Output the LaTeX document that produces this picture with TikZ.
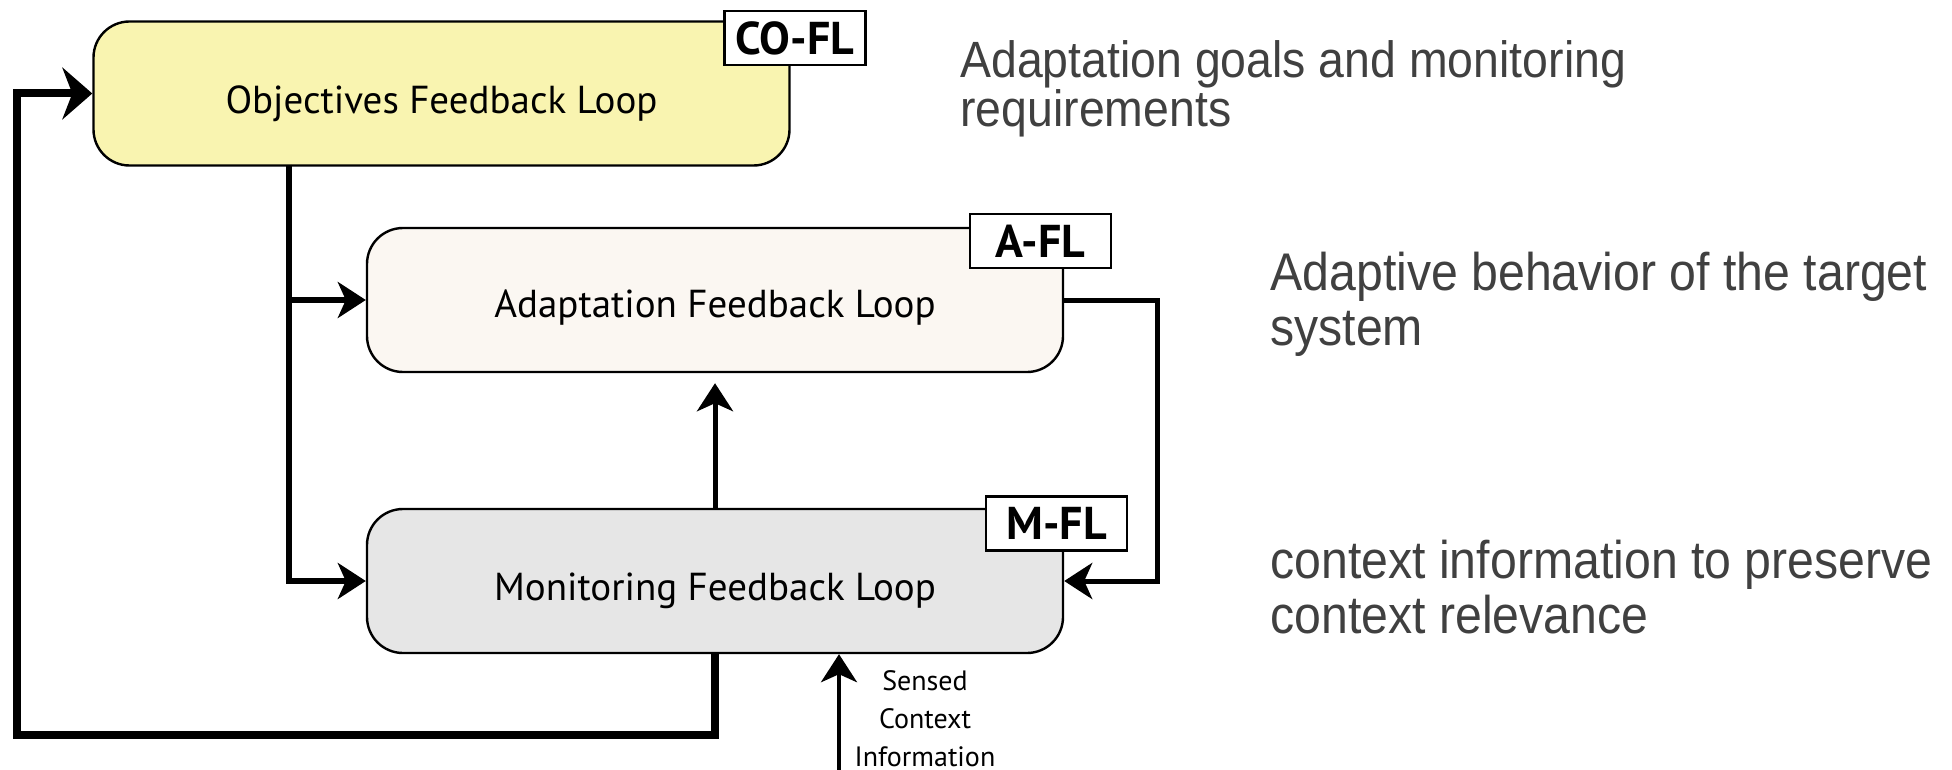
\documentclass[tikz,border=0pt]{standalone}
\usepackage{fontspec}
\setmainfont{PT Sans}
\newfontfamily\notefont[FakeStretch=0.91]{Liberation Sans}
\usetikzlibrary{arrows.meta}
\definecolor{coyellow}{HTML}{F9F4B0}
\definecolor{afill}{HTML}{FBF7F2}
\definecolor{mfill}{HTML}{E6E6E6}
\definecolor{notegray}{HTML}{404040}
\tikzset{
  loopbox/.style={draw=black, line width=1.2pt, rounded corners=18pt, minimum width=348pt, minimum height=72pt, inner sep=0pt},
  looptext/.style={font=\fontsize{19.5}{22}\selectfont, yshift=-5pt},
  tagbox/.style={draw=black, fill=white, line width=1.2pt, minimum width=70.5pt, minimum height=27pt, font=\bfseries\fontsize{23}{26}\selectfont, inner sep=0pt},
  note/.style={anchor=base west, align=left, text=notegray, font=\notefont\fontsize{26.5}{27.5}\selectfont, inner sep=0pt},
  arr/.style={line width=3pt, -{Stealth[length=14pt, width=18pt, inset=4pt]}},
  outer/.style={line width=4pt, -{Stealth[length=15pt, width=26pt, inset=5pt]}},
}
\begin{document}
\begin{tikzpicture}[x=0.5pt, y=-0.5pt]
\useasboundingbox (0,0) rectangle (1952,770);
% boxes
\node[loopbox, fill=coyellow, label={[looptext]center:Objectives Feedback Loop}] (CO) at (441.5,93.5) {};
\node[loopbox, fill=afill, label={[looptext, yshift=1pt]center:Adaptation Feedback Loop}] (A) at (715,300) {};
\node[loopbox, fill=mfill, label={[looptext]center:Monitoring Feedback Loop}] (M) at (715,581) {};
% tags
\node[tagbox] (cotag) at (795,38) {CO-FL};
\node[tagbox] (atag) at (1040.5,241) {A-FL};
\node[tagbox] (mtag) at (1056.5,523.5) {M-FL};
% coordinates
\coordinate (cofork) at (289,165);
\coordinate (bl) at (17,735);
\coordinate (rr) at (1157,300);
\coordinate (sin) at (839,770);
% connectors
\draw[outer] (M.south) |- (bl) |- (CO.west);
\draw[arr] (cofork) |- (A.west);
\draw[arr] (cofork) |- (M.west);
\draw[arr, line width=2.5pt, shorten >=5pt] (M.north) -- (A.south);
\draw[arr, line width=2.5pt] (A.east) -- (rr) |- (M.east);
\draw[arr, line width=2pt] (sin) -- (sin |- M.south);
% sensed label
\node[align=center, font=\fontsize{14}{19}\selectfont, anchor=base, inner sep=0pt] (sensed) at (925,766) {Sensed\\Context\\Information};
% notes
\node[note, font=\notefont\fontsize{25.5}{22}\selectfont] (n1) at (960,127) {Adaptation goals and monitoring\\requirements};
\node[note] (n2) at (1270,345) {Adaptive behavior of the target\\system};
\node[note] (n3) at (1270,633) {context information to preserve\\context relevance};
\end{tikzpicture}
\end{document}
